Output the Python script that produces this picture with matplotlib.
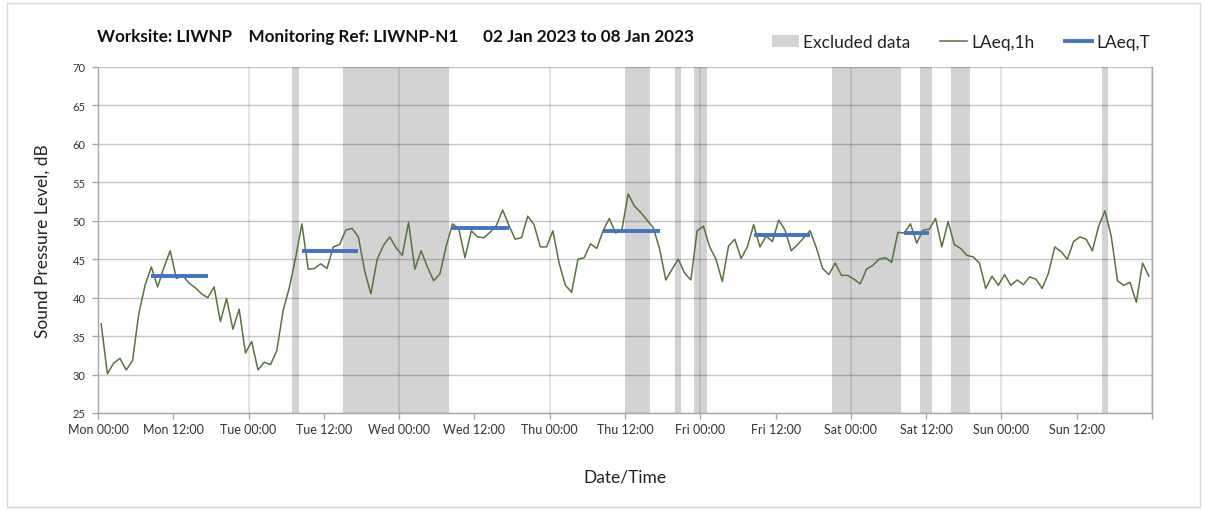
import numpy as np
import matplotlib
matplotlib.use("Agg")
import matplotlib.pyplot as plt
from matplotlib.patches import Patch, Rectangle
from matplotlib.lines import Line2D

plt.rcParams['font.family'] = ['Lato', 'DejaVu Sans']

# ---- data ----
laeq_1h = [
    36.6, 30.1, 31.5, 32.1, 30.6, 31.8, 37.9, 41.6, 44.0, 41.4, 43.9, 46.1, 42.5, 42.9,
    41.9, 41.3, 40.5, 40.0, 41.4, 36.9, 39.9, 35.9, 38.5, 32.8, 34.3, 30.6, 31.6, 31.3,
    33.1, 38.3, 41.3, 45.2, 49.6, 43.7, 43.8, 44.4, 43.8, 46.6, 46.9, 48.8, 49.0, 47.9,
    43.5, 40.5, 45.0, 46.8, 47.9, 46.5, 45.5, 49.8, 43.7, 46.1, 44.0, 42.2, 43.1, 46.7,
    49.6, 49.0, 45.2, 48.7, 47.9, 47.8, 48.5, 49.4, 51.4, 49.4, 47.6, 47.8, 50.6, 49.5,
    46.6, 46.6, 48.7, 44.5, 41.6, 40.7, 45.0, 45.2, 47.0, 46.4, 48.7, 50.3, 48.4, 48.8,
    53.5, 51.9, 51.1, 50.1, 49.1, 46.4, 42.3, 43.7, 45.0, 43.2, 42.3, 48.7, 49.3, 46.6,
    45.0, 42.1,
    46.7, 47.6, 45.1, 46.6, 49.5, 46.6, 48.0, 47.3, 50.1, 48.8, 46.1, 46.9, 47.8, 48.7,
    46.5, 43.8, 43.0, 44.5, 42.9, 42.9, 42.4, 41.8, 43.7, 44.2, 45.0, 45.2, 44.6, 48.5,
    48.4, 49.6, 47.1, 48.8, 48.9, 50.3, 46.6, 49.9, 46.9, 46.4, 45.5, 45.3, 44.5, 41.2,
    42.8, 41.6, 43.0, 41.6, 42.3, 41.7, 42.7,
    42.4, 41.2, 43.2, 46.6, 46.0, 45.0, 47.3, 47.9, 47.6, 46.1, 49.3, 51.3, 48.0, 42.2,
    41.6, 42.0, 39.4, 44.5, 42.8,
]
assert len(laeq_1h) == 168

# excluded periods (hours from Mon 00:00)
excl_start = [31, 39, 84, 92, 95, 117, 131, 136, 160]
excl_end = [32, 56, 88, 93, 97, 128, 133, 139, 161]

# LAeq,T daytime values (first and last hourly point of period)
laeqT_start = [8.5, 32.5, 56.5, 80.5, 104.5, 128.5]
laeqT_end = [17.5, 41.5, 65.5, 89.5, 113.5, 132.5]
laeqT_val = [42.8, 46.1, 49.0, 48.7, 48.2, 48.4]

days = ["Mon", "Tue", "Wed", "Thu", "Fri", "Sat", "Sun"]
tick_labels = [f"{d} {t}" for d in days for t in ("00:00", "12:00")]
yticks = [25, 30, 35, 40, 45, 50, 55, 60, 65, 70]

title = "Worksite: LIWNP    Monitoring Ref: LIWNP-N1      02 Jan 2023 to 08 Jan 2023"

# ---- plot ----
fig = plt.figure(figsize=(12.05, 5.10), dpi=100)
fig.patches.append(Rectangle((0.006, 0.004), 0.99, 0.988, transform=fig.transFigure,
                             fill=False, edgecolor='#d9d9d9', linewidth=1.0))
ax = fig.add_axes([98 / 1205, 1 - 414 / 510, (1152 - 98) / 1205, (414 - 68) / 510])

shade = '#d3d3d3'
for s, e in zip(excl_start, excl_end):
    ax.axvspan(s, e, color=shade, lw=0, zorder=1)

for y in yticks:
    ax.axhline(y, color='black', alpha=0.22, lw=1.0, zorder=1.5)
for d in range(0, 169, 24):
    ax.axvline(d, color='black', alpha=0.10, lw=1.5, zorder=1.5)

hours = np.arange(len(laeq_1h)) + 0.5
ax.plot(hours, laeq_1h, color='#56743f', lw=1.1, zorder=3)
for s, e, v in zip(laeqT_start, laeqT_end, laeqT_val):
    ax.plot([s, e], [v, v], color='#4472c4', lw=2.8, solid_capstyle='butt', zorder=4)

ax.set_xlim(0, 168)
ax.set_ylim(25, 70)
ax.set_xticks(list(range(0, 168, 12)) + [168])
ax.set_xticklabels(tick_labels + [""], fontsize=9, color='#333333')
ax.set_yticks(yticks)
ax.set_yticklabels([str(y) for y in yticks], fontsize=8, color='#333333')
ax.tick_params(axis='both', direction='out', length=4, color='#a6a6a6', width=1)
ax.tick_params(axis='x', pad=3)
ax.tick_params(axis='y', pad=5)
ax.spines['top'].set_visible(False)
for side in ['left', 'bottom', 'right']:
    ax.spines[side].set_color('#a6a6a6')
    ax.spines[side].set_linewidth(1.0)

ax.set_ylabel("Sound Pressure Level, dB", fontsize=12.5, color='#222222', labelpad=16)
ax.set_xlabel("Date/Time", fontsize=12.5, color='#222222', labelpad=24)

fig.text(97 / 1205, 1 - 37 / 510, title, fontsize=12.3, fontweight='bold',
         ha='left', va='center', color='#111111')

handles = [Patch(facecolor=shade, edgecolor='none'),
           Line2D([], [], color='#56743f', lw=1.1),
           Line2D([], [], color='#4472c4', lw=2.8)]
fig.legend(handles, ["Excluded data", "LAeq,1h", "LAeq,T"], ncol=3, frameon=False,
           loc='center right', bbox_to_anchor=(1166 / 1205, 1 - 43 / 510),
           fontsize=12.5, handlelength=1.55, handletextpad=0.25, columnspacing=1.75,
           labelcolor='#222222')

fig.savefig("out.png", dpi=100)
